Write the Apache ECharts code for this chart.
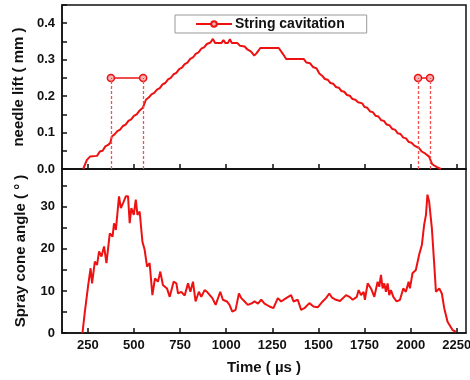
<!DOCTYPE html>
<html>
<head>
<meta charset="utf-8">
<script src="https://cdn.jsdelivr.net/npm/echarts@6/dist/echarts.min.js"></script>
<style>
html, body { margin: 0; padding: 0; background: #fff; }
#chart { width: 470px; height: 380px; }
</style>
</head>
<body>
<div id="chart"></div>
<script>
// tick labels
const timeTicks = [250, 500, 750, 1000, 1250, 1500, 1750, 2000, 2250]
const liftTicks = [0, 0.1, 0.2, 0.3, 0.4]
const coneTicks = [0, 10, 20, 30]

// needle lift (mm) vs time (us)
const liftTime = [225, 245, 262, 300, 315, 330, 345, 360, 372, 380, 395, 410, 425, 440, 455, 470, 485, 500, 515, 530, 548, 565,
	580, 595, 610, 625, 640, 655, 670, 685, 700, 715, 730, 745, 760, 775, 790, 805, 820, 835, 850, 865, 880, 895, 915, 928,
	940, 975, 985, 995, 1010, 1020, 1030, 1060, 1075, 1100, 1115, 1135, 1152, 1165, 1185, 1285, 1310, 1325, 1420, 1435,
	1455, 1470, 1490, 1505, 1520, 1535, 1550, 1565, 1580, 1595, 1610, 1625, 1640, 1655, 1670, 1685, 1700, 1715, 1738,
	1750, 1765, 1780, 1795, 1810, 1825, 1840, 1855, 1870, 1885, 1900, 1915, 1930, 1945, 1960, 1975, 1990, 2005, 2020,
	2046, 2060, 2080, 2100, 2117, 2140, 2164]
const liftMm = [0, 0.025, 0.034, 0.036, 0.048, 0.05, 0.062, 0.066, 0.072, 0.089, 0.095, 0.104, 0.108, 0.118, 0.122, 0.132,
	0.136, 0.146, 0.15, 0.16, 0.168, 0.19, 0.196, 0.205, 0.209, 0.218, 0.222, 0.232, 0.236, 0.246, 0.25, 0.26, 0.264, 0.274,
	0.278, 0.288, 0.292, 0.302, 0.306, 0.316, 0.32, 0.33, 0.334, 0.343, 0.347, 0.357, 0.346, 0.346, 0.354, 0.346, 0.346,
	0.356, 0.346, 0.346, 0.338, 0.336, 0.328, 0.322, 0.311, 0.318, 0.332, 0.332, 0.314, 0.302, 0.302, 0.292, 0.29, 0.28,
	0.276, 0.262, 0.256, 0.247, 0.245, 0.236, 0.234, 0.225, 0.223, 0.214, 0.212, 0.203, 0.201, 0.192, 0.19, 0.183, 0.18,
	0.17, 0.168, 0.158, 0.156, 0.146, 0.144, 0.134, 0.132, 0.122, 0.12, 0.11, 0.108, 0.098, 0.096, 0.086, 0.084, 0.074,
	0.072, 0.064, 0.057, 0.048, 0.042, 0.034, 0.013, 0.006, 0]

// spray cone angle (deg) vs time (us)
const coneTime = [221, 234, 252, 265, 273, 288, 300, 311, 324, 338, 351, 369, 384, 392, 402, 419, 429, 441, 456, 468, 477,
	486, 499, 510, 519, 531, 546, 558, 571, 585, 600, 614, 630, 643, 657, 679, 694, 715, 730, 739, 757, 775, 793, 806,
	820, 834, 852, 865, 883, 896, 906, 925, 943, 968, 982, 1004, 1018, 1033, 1051, 1069, 1082, 1100, 1117, 1136, 1154,
	1172, 1190, 1208, 1235, 1256, 1280, 1298, 1325, 1352, 1365, 1388, 1406, 1424, 1451, 1473, 1496, 1523, 1541, 1559,
	1574, 1595, 1617, 1650, 1668, 1686, 1708, 1718, 1731, 1745, 1752, 1767, 1785, 1803, 1821, 1830, 1839, 1848, 1857,
	1866, 1875, 1884, 1893, 1906, 1924, 1942, 1960, 1974, 1989, 1996, 2010, 2028, 2046, 2061, 2073, 2083, 2091, 2100,
	2115, 2128, 2137, 2155, 2169, 2182, 2200, 2227, 2245]
const coneDeg = [0, 5.1, 11.4, 15.4, 11.8, 17, 16.2, 19.4, 18.2, 20.6, 16.6, 23.7, 22.9, 26.1, 24.5, 32.5, 29.7, 30.9, 32.5,
	32.5, 26.1, 29.7, 28.1, 31.7, 28.1, 28.9, 21.7, 19.8, 15.8, 16.6, 9, 13, 12.2, 14.6, 11.4, 10.6, 8.6, 12.2, 11.8, 9.4,
	9.8, 8.9, 11.8, 9.8, 12.2, 7.5, 9.8, 8.6, 10.2, 9.8, 10.2, 8.3, 6.7, 9.8, 7.9, 7.5, 6.7, 5.1, 5.5, 9.4, 8.3, 7.5, 6.7,
	7, 7.5, 7, 7.9, 7, 6.3, 5.9, 8.3, 7.5, 8.3, 9, 7.5, 7.9, 5.5, 5.9, 7.1, 6.3, 6.1, 7.5, 8.3, 9.4, 8.4, 7.9, 7.6, 9, 8.6,
	7.9, 8.6, 10.2, 9, 9.8, 7.9, 11.8, 10.6, 8.6, 12.2, 11, 13.8, 10.6, 11.8, 9.8, 11.8, 9, 10.2, 8.6, 7.5, 7.9, 10.6, 9.8,
	12.2, 10.6, 14.2, 15, 18.6, 21, 25.7, 28.1, 32.9, 31.3, 24.9, 16.2, 9.8, 10.6, 9.4, 5.9, 2.7, 0.7, 0.3]

// string cavitation windows
const cavStart = [375, 2040]
const cavEnd = [550, 2105]
const cavLevel = 0.25

const red = '#ee1111'
const font = 'Liberation Sans, Arial, sans-serif'

const chart = echarts.init(document.getElementById('chart'))

const tickLabel = {
	color: '#111',
	fontFamily: font,
	fontWeight: 'bold',
	fontSize: 13,
}

const xAxisBase = {
	type: 'value',
	min: 110,
	max: 2300,
	splitLine: { show: false },
	axisLine: { show: true, onZero: false, lineStyle: { color: '#111', width: 1.5 } },
	axisTick: { show: true, inside: true, length: 5, customValues: timeTicks, lineStyle: { color: '#111', width: 1.5 } },
}

const cavSeries = cavStart.map((s, i) => ({
	name: 'String cavitation',
	type: 'line',
	xAxisIndex: 0,
	yAxisIndex: 0,
	data: [[s, cavLevel], [cavEnd[i], cavLevel]],
	symbol: 'circle',
	symbolSize: 7,
	lineStyle: { color: red, width: 1.5 },
	itemStyle: { color: '#f8b4b4', borderColor: red, borderWidth: 1.5 },
	markLine: {
		silent: true,
		symbol: ['none', 'none'],
		label: { show: false },
		itemStyle: { color: '#f05050' },
		lineStyle: { color: '#f05050', type: [3, 2], width: 1.3, opacity: 1 },
		data: [s, cavEnd[i]].map((t) => [{ coord: [t, 0] }, { coord: [t, cavLevel] }]),
	},
}))

chart.setOption({
	animation: false,
	backgroundColor: '#fff',
	grid: [
		{ left: 62, right: 4, top: 5, height: 164, outerBoundsMode: 'none', show: true, borderColor: '#111', borderWidth: 1.5 },
		{ left: 62, right: 4, top: 169, height: 164, outerBoundsMode: 'none', show: true, borderColor: '#111', borderWidth: 1.5 },
	],
	legend: {
		data: ['String cavitation'],
		left: 175,
		top: 15,
		padding: [2, 22, 2, 20],
		itemWidth: 36,
		itemHeight: 7,
		itemGap: 0,
		borderColor: '#999',
		borderWidth: 1,
		textStyle: { color: '#111', fontFamily: font, fontWeight: 'bold', fontSize: 14, padding: [0, 0, 0, -2] },
	},
	xAxis: [
		{ ...xAxisBase, gridIndex: 0, axisLabel: { show: false } },
		{
			...xAxisBase,
			gridIndex: 1,
			name: 'Time ( \u00b5s )',
			nameLocation: 'middle',
			nameGap: 27,
			nameTextStyle: { color: '#111', fontFamily: font, fontWeight: 'bold', fontSize: 15 },
			axisLabel: { ...tickLabel, margin: 6, customValues: timeTicks, formatter: (v) => String(v) },
		},
	],
	yAxis: [
		{
			type: 'value',
			gridIndex: 0,
			min: 0,
			max: 0.45,
			interval: 0.05,
			name: 'needle lift ( mm )',
			nameLocation: 'middle',
			nameGap: 34,
			nameTextStyle: { color: '#111', fontFamily: font, fontWeight: 'bold', fontSize: 15 },
			splitLine: { show: false },
			axisLine: { show: true, lineStyle: { color: '#111', width: 1.5 } },
			axisTick: { show: true, inside: true, length: 5, lineStyle: { color: '#111', width: 1.5 } },
			axisLabel: { ...tickLabel, margin: 7, customValues: liftTicks, formatter: (v) => v.toFixed(1) },
		},
		{
			type: 'value',
			gridIndex: 1,
			min: 0,
			max: 39,
			interval: 5,
			name: 'Spray cone angle ( \u00b0 )',
			nameLocation: 'middle',
			nameGap: 34,
			nameTextStyle: { color: '#111', fontFamily: font, fontWeight: 'bold', fontSize: 15 },
			splitLine: { show: false },
			axisLine: { show: true, lineStyle: { color: '#111', width: 1.5 } },
			axisTick: { show: true, inside: true, length: 5, lineStyle: { color: '#111', width: 1.5 } },
			axisLabel: { ...tickLabel, margin: 7, customValues: coneTicks },
		},
	],
	series: [
		{
			name: 'needle lift',
			type: 'line',
			xAxisIndex: 0,
			yAxisIndex: 0,
			data: liftTime.map((t, i) => [t, liftMm[i]]),
			showSymbol: false,
			lineStyle: { color: red, width: 2 },
		},
		...cavSeries,
		{
			name: 'spray cone angle',
			type: 'line',
			xAxisIndex: 1,
			yAxisIndex: 1,
			data: coneTime.map((t, i) => [t, coneDeg[i]]),
			showSymbol: false,
			lineStyle: { color: red, width: 2 },
		},
	],
})
</script>
</body>
</html>
